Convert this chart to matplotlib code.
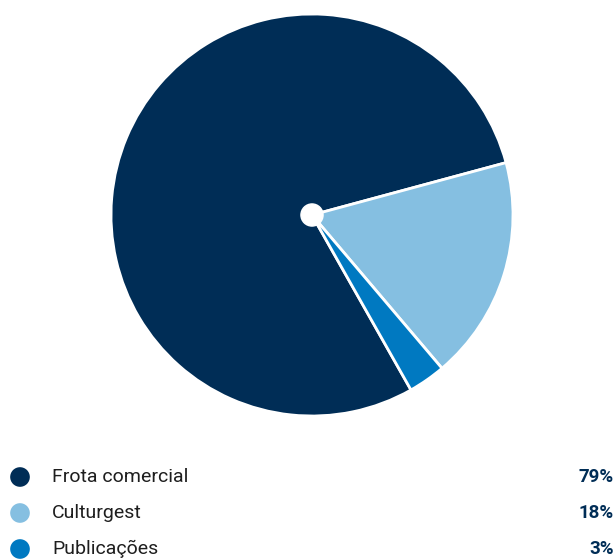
import matplotlib
matplotlib.use("Agg")
import matplotlib.pyplot as plt

# data
labels = ["Frota comercial", "Culturgest", "Publicações"]
values = [79, 18, 3]
colors = ["#002D56", "#85BFE1", "#0079C1"]

W, H = 616, 559
fig = plt.figure(figsize=(W / 100, H / 100), dpi=100)

# pie axes placed in pixel space
cx, cy, r = 312, 215, 201
ax = fig.add_axes([(cx - r) / W, (H - cy - r) / H, 2 * r / W, 2 * r / H])
ax.pie(
    values,
    colors=colors,
    startangle=-60.5,
    counterclock=False,
    radius=1,
    wedgeprops=dict(edgecolor="white", linewidth=2),
)
ax.add_patch(plt.Circle((0, 0), 0.055, color="white", zorder=5))
ax.set_xlim(-1, 1)
ax.set_ylim(-1, 1)
ax.set_aspect("equal")
ax.axis("off")

# legend drawn in pixel coordinates
lax = fig.add_axes([0, 0, 1, 1])
lax.set_xlim(0, W)
lax.set_ylim(H, 0)
lax.axis("off")
rows_y = [477, 513, 549]
for y, lab, val, col in zip(rows_y, labels, values, colors):
    lax.scatter(20, y, s=200, color=col, edgecolors="none")
    lax.text(52, y, lab, fontsize=14, color="#1e1e1e", va="center",
             ha="left", family="Roboto")
    lax.text(614, y, f"{val}%", fontsize=13.5, color="#002D56", va="center",
             ha="right", fontweight="bold", family="Roboto")

fig.savefig("out.png", dpi=100)
